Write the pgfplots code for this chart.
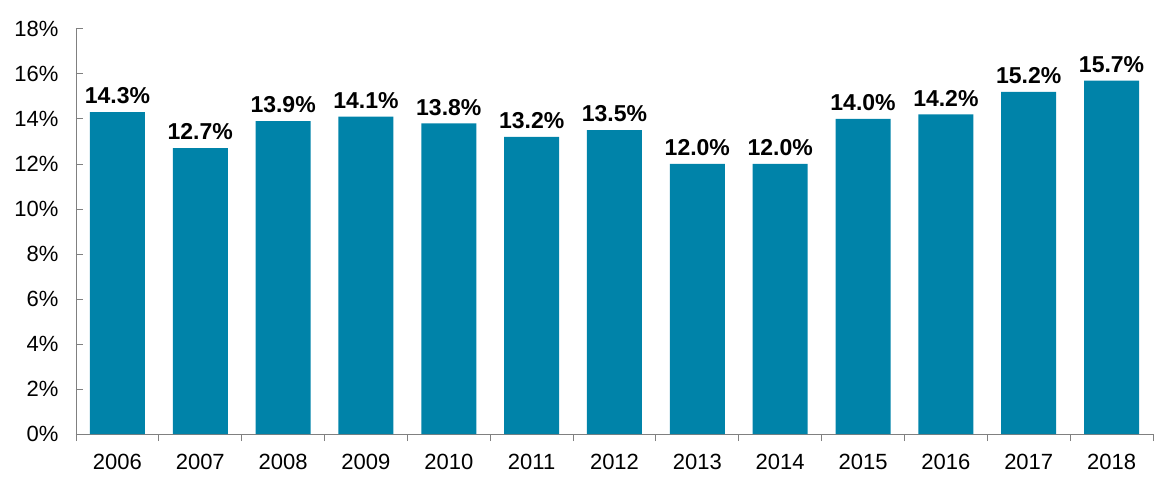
\documentclass[border=0pt]{standalone}
\usepackage{fontspec}
\setmainfont{Liberation Sans}
\usepackage{pgfplots}
\pgfplotsset{compat=1.18}
\definecolor{barblue}{RGB}{0,131,169}
\definecolor{axgray}{RGB}{128,128,128}
\begin{document}
\begin{tikzpicture}
\path[use as bounding box] (-76bp,-60bp) rectangle (1096bp,434bp);
\begin{axis}[
  at={(0,0)}, anchor=south west,
  scale only axis,
  width=1077bp, height=405bp,
  xmin=-0.5, xmax=12.5,
  ymin=0, ymax=18,
  axis x line*=bottom, axis y line*=left,
  axis line style={axgray, line width=1pt},
  tick align=inside,
  xtick={0,...,12},
  xticklabels={2006,2007,2008,2009,2010,2011,2012,2013,2014,2015,2016,2017,2018},
  major x tick style={draw=none},
  minor xtick={-0.5,0.5,...,12.5},
  minor x tick style={axgray, line width=1pt},
  minor tick length=7bp,
  ytick={0,2,...,18},
  major y tick style={axgray, line width=1pt},
  major tick length=7bp,
  yticklabel={\pgfmathprintnumber[assume math mode=true]{\tick}\%},
  tick label style={font=\fontsize{22bp}{26bp}\selectfont, text=black},
  yticklabel style={xshift=-14bp},
  xticklabel style={yshift=-10bp},
  ybar, bar width=55bp,
  nodes near coords={\pgfmathprintnumber[fixed,fixed zerofill,precision=1,assume math mode=true]{\pgfplotspointmeta}\%},
  nodes near coords style={font=\bfseries\fontsize{23bp}{27bp}\selectfont, inner sep=0pt, yshift=8bp, text=black},
  clip=false,
]
\addplot[fill=barblue, draw=none] coordinates {
(0,14.3) (1,12.7) (2,13.9) (3,14.1) (4,13.8) (5,13.2) (6,13.5)
(7,12.0) (8,12.0) (9,14.0) (10,14.2) (11,15.2) (12,15.7)
};
\end{axis}
\end{tikzpicture}
\end{document}
